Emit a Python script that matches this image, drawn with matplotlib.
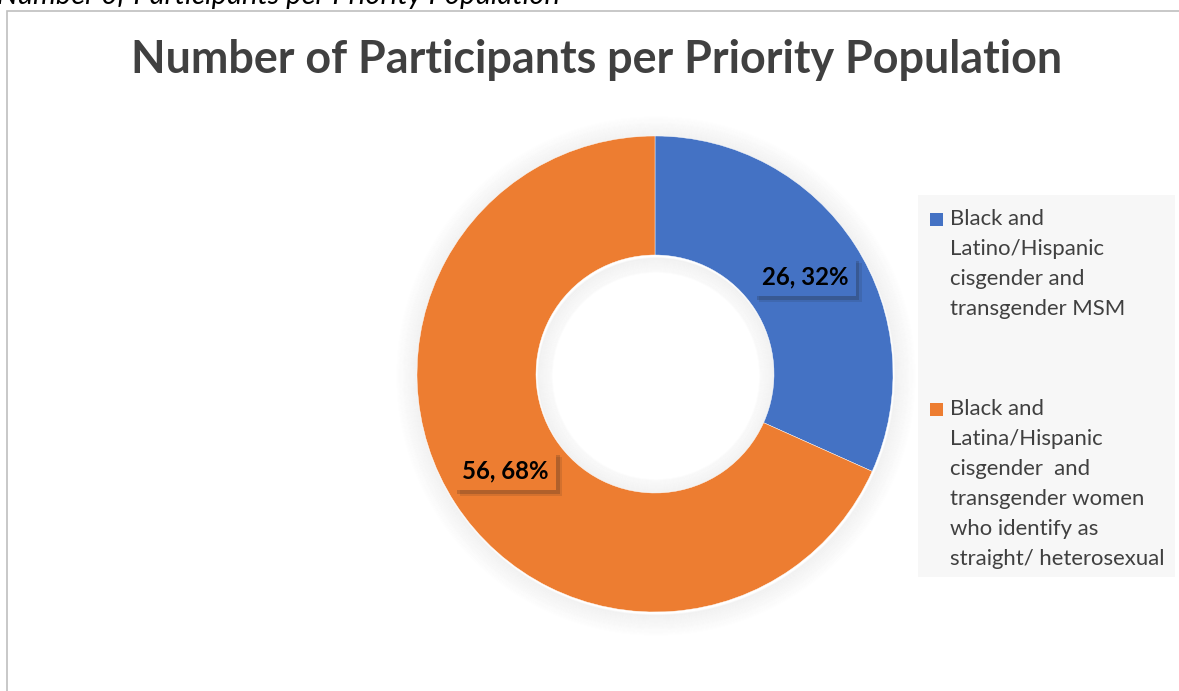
import numpy as np
import matplotlib.pyplot as plt
import matplotlib.patheffects as pe
from matplotlib.patches import Rectangle, Circle

# Participants in each priority population
groups = [
    "Black and\nLatino/Hispanic\ncisgender and\ntransgender MSM",
    "Black and\nLatina/Hispanic\ncisgender  and\ntransgender women\nwho identify as\nstraight/ heterosexual",
]
counts = [26, 56]
colors = ["#4472C4", "#ED7D31"]

W, H = 1179, 691
fig = plt.figure(figsize=(W / 100, H / 100), dpi=100)
ax = fig.add_axes([0, 0, 1, 1])

cx, cy = 655, H - 374
r_out, r_in = 238, 119

# soft drop shadow round the ring and inside the hole
for k in range(1, 22):
    a = 0.05 * (1 - k / 22)
    ax.add_patch(Circle((cx + 1, cy - 2), r_out + k, fill=False, ec="#606060", lw=1.2, alpha=a, zorder=1))
    if k < 16:
        ax.add_patch(Circle((cx + 1, cy - 2), r_in - k, fill=False, ec="#606060", lw=1.2, alpha=a, zorder=1))

wedges, _ = ax.pie(counts, colors=colors, startangle=90, counterclock=False,
                   radius=r_out, center=(cx, cy), frame=True,
                   wedgeprops=dict(width=r_out - r_in, edgecolor="white", linewidth=0.3))
for w in wedges:
    w.set_zorder(2)

# value / percent labels in boxes with a small shadow
total = sum(counts)
start = 90
for c, col in zip(counts, colors):
    sweep = 360 * c / total
    mid = np.deg2rad(start - sweep / 2)
    start -= sweep
    rr = (r_out + r_in) / 2
    x, y = cx + rr * np.cos(mid), cy + rr * np.sin(mid)
    lab = f"{c}, {round(100 * c / total)}%"
    t = ax.text(x, y, lab, ha="center", va="center", fontsize=17.3, fontweight="bold",
                family="Lato", color="black", zorder=4,
                bbox=dict(boxstyle="square,pad=0.33", fc=col, ec="none"))
    t.get_bbox_patch().set_path_effects([
        pe.SimplePatchShadow(offset=(4, -4), shadow_rgbFace="#202020", alpha=0.12),
        pe.SimplePatchShadow(offset=(2.5, -2.5), shadow_rgbFace="#202020", alpha=0.2),
        pe.Normal()])

# chart frame
ax.add_patch(Rectangle((6.5, -20), 1300, H - 10.5 + 20, fill=False, ec="#bfbfbf", lw=1.2, zorder=0))

# legend
ax.add_patch(Rectangle((918, H - 577), 257, 382, fc="#f7f7f7", ec="none", zorder=0))
tops = [H - 209, H - 399]
for label, col, top in zip(groups, colors, tops):
    ax.add_patch(Rectangle((930, top - 17), 13, 13, fc=col, ec="none", zorder=2))
    ax.text(950, top, label, ha="left", va="top", fontsize=15.9, family="Lato",
            color="#404040", linespacing=1.62, zorder=2)

ax.text(597, H - 73, "Number of Participants per Priority Population", ha="center",
        va="baseline", fontsize=32.3, fontweight="bold", family="Lato", color="#404040")
ax.text(-3, H - 3.5, "Number of Participants per Priority Population", ha="left",
        va="baseline", fontsize=21, style="italic", family="Lato", color="black")

ax.set_xlim(0, W)
ax.set_ylim(0, H)
ax.set_aspect("auto")
ax.axis("off")

fig.savefig("out.png", dpi=100)
